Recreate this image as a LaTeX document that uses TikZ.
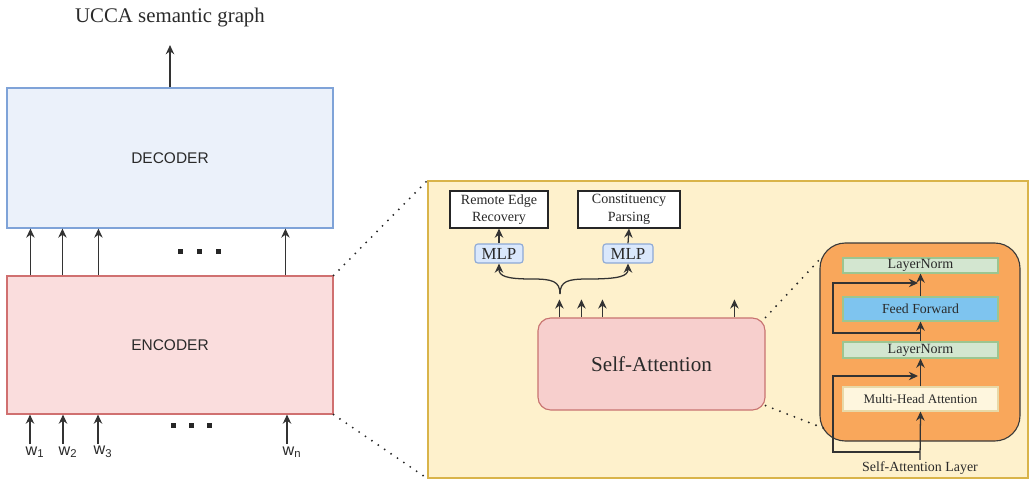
\documentclass[tikz,border=0pt]{standalone}
\usepackage{fontspec}
\setmainfont{Liberation Serif}
\newfontfamily\arial{Liberation Sans}
\usetikzlibrary{arrows.meta}
\def\pxu{0.025cm}
\definecolor{decf}{HTML}{EBF1FA}
\definecolor{decb}{HTML}{7FA3D8}
\definecolor{encf}{HTML}{FADDDD}
\definecolor{encb}{HTML}{D07070}
\definecolor{panelf}{HTML}{FEF1CC}
\definecolor{panelb}{HTML}{D9B44A}
\definecolor{mlpf}{HTML}{DAE8FC}
\definecolor{mlpb}{HTML}{8DA9D6}
\definecolor{saf}{HTML}{F7CFCD}
\definecolor{sab}{HTML}{C87370}
\definecolor{orf}{HTML}{F9A75B}
\definecolor{orb}{HTML}{3A3A3A}
\definecolor{lnf}{HTML}{D3E6D0}
\definecolor{lnb}{HTML}{9CC590}
\definecolor{fff}{HTML}{7EC4EF}
\definecolor{mhaf}{HTML}{FEF6DE}
\definecolor{mhab}{HTML}{E8D9A8}
\definecolor{txt}{HTML}{2A2A2A}
\tikzset{
  arr/.style={-{Stealth[length=6.5pt,width=6pt]}, line width=0.9pt, draw=black!80},
  dotline/.style={line width=1.5pt, dash pattern=on 0pt off 5.5pt, line cap=round, draw=black!85},
  bigbox/.style={rectangle, line width=0.8pt, inner sep=0pt, font=\arial\fontsize{11}{13}\selectfont, text=txt, minimum width=326*\pxu},
  wbox/.style={rectangle, draw=black!85, fill=white, line width=0.8pt, inner sep=0pt, align=center, text=txt, font=\fontsize{10}{12.5}\selectfont, minimum height=37*\pxu},
  mlpbox/.style={rectangle, rounded corners=2pt, draw=mlpb, fill=mlpf, line width=0.8pt, inner sep=0pt, text=txt, font=\fontsize{12}{14}\selectfont, minimum height=19*\pxu},
  layerbox/.style={rectangle, line width=0.8pt, inner sep=0pt, text=txt, minimum width=155*\pxu},
  wlab/.style={font=\arial\fontsize{11.5}{13}\selectfont, text=txt, inner sep=1.5pt},
  sq/.style={fill=black!85}
}
\begin{document}
\begin{tikzpicture}[x=0.025cm,y=-0.025cm]
\useasboundingbox (0,0) rectangle (1032,481);
\fill[white] (0,0) rectangle (1032,481);

% left column
\node[font=\fontsize{14.8}{17}\selectfont, text=txt] (title) at (170,18) {UCCA semantic graph};
\node[bigbox, draw=decb, fill=decf, minimum height=140*\pxu] (dec) at (170,158) {DECODER};
\node[bigbox, draw=encb, fill=encf, minimum height=138*\pxu] (enc) at (170,345) {ENCODER};
\draw[arr, shorten >=9pt] (dec.north) -- (title.south);

\foreach \dx in {24,56,92,279}{
  \draw[arr] ([xshift=\dx*\pxu]enc.north west) -- ([xshift=\dx*\pxu]dec.south west);
}
\foreach \xx in {180,199,218}{
  \fill[sq] (\xx-2.5,249) rectangle (\xx+2.5,254);
}
\foreach \xx in {173,191,209}{
  \fill[sq] (\xx-2.5,422.5) rectangle (\xx+2.5,427.5);
}

\node[wlab] (w1) at (35,452) {w\textsubscript{1}};
\node[wlab] (w2) at (68,452) {w\textsubscript{2}};
\node[wlab] (w3) at (103,452) {w\textsubscript{3}};
\node[wlab] (wn) at (292,452) {w\textsubscript{n}};
\foreach \w in {w1,w2,w3,wn}{
  \draw[arr] ([xshift=-5*\pxu]\w.north) -- ([xshift=-5*\pxu]\w.north |- enc.south);
}

% zoom panel
\node[rectangle, draw=panelb, fill=panelf, line width=0.8pt, minimum width=600*\pxu, minimum height=297*\pxu, inner sep=0pt] (panel) at (728,329.5) {};
\draw[dotline] (enc.north east) -- (panel.north west);
\draw[dotline] (enc.south east) -- (panel.south west);

\node[wbox, minimum width=98*\pxu] (red) at (499,209.5) {Remote Edge\\Recovery};
\node[wbox, minimum width=102*\pxu] (con) at (629,209.5) {Constituency\\Parsing};
\node[mlpbox, minimum width=48*\pxu] (mlp1) at (499,253.5) {MLP};
\node[mlpbox, minimum width=50*\pxu] (mlp2) at (628,253.5) {MLP};
\draw[arr] (mlp1.north) -- (red.south);
\draw[arr] (mlp2.north) -- (con.south);

\node[rectangle, rounded corners=9pt, draw=sab, fill=saf, line width=0.8pt, minimum width=227*\pxu, minimum height=92*\pxu, inner sep=0pt, text=txt, font=\fontsize{15}{18}\selectfont] (sa) at (651.5,364) {Self-Attention};
\foreach \dx in {22,44,65,197}{
  \draw[arr] ([xshift=\dx*\pxu]sa.north west) -- ++(0,-18);
}
\coordinate (br) at (560,294);
\draw[arr] (br) .. controls (560,281) and (552,279) .. (532,279) .. controls (506,279) and (499,276) .. (mlp1.south);
\draw[arr] (br) .. controls (560,281) and (568,279) .. (588,279) .. controls (620,279) and (628,276) .. (mlp2.south);

% self-attention layer detail
\node[rectangle, rounded corners=18pt, draw=orb, fill=orf, line width=0.8pt, minimum width=200*\pxu, minimum height=198*\pxu, inner sep=0pt] (orange) at (920,342) {};
\draw[dotline] (sa.north east) -- ([xshift=3*\pxu, yshift=-14*\pxu]orange.north west);
\draw[dotline] ([yshift=5*\pxu]sa.south east) -- ([xshift=5*\pxu, yshift=13*\pxu]orange.south west);

\node[layerbox, draw=lnb, fill=lnf, minimum height=15*\pxu, font=\fontsize{10}{12}\selectfont] (ln1) at (920.5,265.5) {LayerNorm};
\node[layerbox, draw=lnb, fill=fff, minimum height=24*\pxu, font=\fontsize{9.8}{12}\selectfont] (ff) at (920.5,309) {Feed Forward};
\node[layerbox, draw=lnb, fill=lnf, minimum height=16*\pxu, font=\fontsize{10}{12}\selectfont] (ln2) at (920.5,350) {LayerNorm};
\node[layerbox, draw=mhab, fill=mhaf, minimum height=24*\pxu, font=\fontsize{9.3}{11}\selectfont] (mha) at (920.5,399) {Multi-Head Attention};
\node[font=\fontsize{9.9}{12}\selectfont, text=txt, inner sep=1pt] (sal) at (920,468) {Self-Attention Layer};

\draw[arr] (sal.north) -- (mha.south);
\draw[arr] (mha.north) -- (ln2.south);
\draw[arr] (ln2.north) -- (ff.south);
\draw[arr] (ff.north) -- (ln1.south);

\coordinate (r1s) at (920,452);
\coordinate (r1e) at (918,376);
\draw[arr] (r1s) -| (833,414) |- (r1e);
\coordinate (r2s) at (920,333);
\coordinate (r2e) at (918,283);
\draw[arr] (r2s) -| (833,310) |- (r2e);
\end{tikzpicture}
\end{document}
